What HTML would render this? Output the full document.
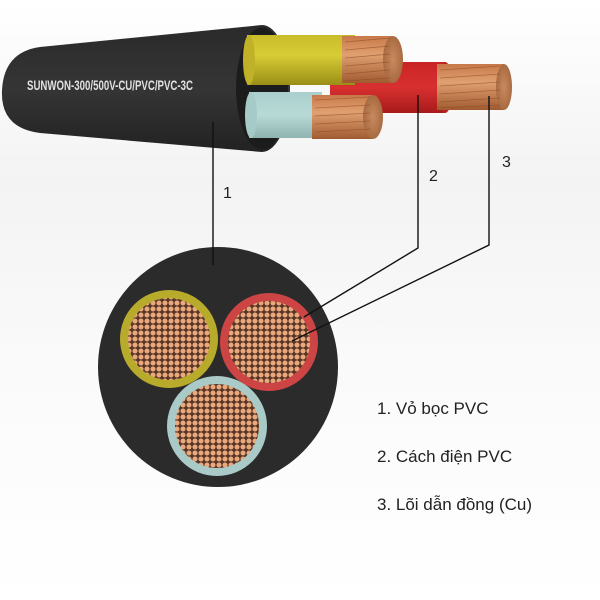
<!DOCTYPE html>
<html><head><meta charset="utf-8"><style>
html,body{margin:0;padding:0;background:#fff;}
svg{display:block;}
</style></head><body>
<svg width="600" height="600" viewBox="0 0 600 600" xmlns="http://www.w3.org/2000/svg">
<defs>
<linearGradient id="bg" x1="0" y1="0" x2="0" y2="1">
<stop offset="0" stop-color="#ffffff"/><stop offset="0.3" stop-color="#f3f3f3"/><stop offset="0.6" stop-color="#fafafa"/><stop offset="1" stop-color="#ffffff"/></linearGradient>
<linearGradient id="blk" x1="0" y1="0" x2="0" y2="1">
<stop offset="0" stop-color="#2a2a2a"/><stop offset="0.5" stop-color="#353535"/><stop offset="1" stop-color="#222"/></linearGradient>
<linearGradient id="yel" x1="0" y1="0" x2="0" y2="1">
<stop offset="0" stop-color="#c9bc2a"/><stop offset="0.4" stop-color="#d8cc35"/><stop offset="1" stop-color="#9a8e18"/></linearGradient>
<linearGradient id="blu" x1="0" y1="0" x2="0" y2="1">
<stop offset="0" stop-color="#a9cfcc"/><stop offset="0.5" stop-color="#b8dad6"/><stop offset="1" stop-color="#8fb3b0"/></linearGradient>
<linearGradient id="red" x1="0" y1="0" x2="0" y2="1">
<stop offset="0" stop-color="#c92424"/><stop offset="0.5" stop-color="#d83030"/><stop offset="1" stop-color="#a81a1a"/></linearGradient>
<linearGradient id="cu" x1="0" y1="0" x2="0" y2="1">
<stop offset="0" stop-color="#c8794a"/><stop offset="0.4" stop-color="#e0a070"/><stop offset="1" stop-color="#a05a30"/></linearGradient>
<radialGradient id="cuf" cx="0.5" cy="0.5" r="0.5">
<stop offset="0" stop-color="#c98a60"/><stop offset="1" stop-color="#a86a40"/></radialGradient>
<pattern id="dots" width="6" height="6" patternUnits="userSpaceOnUse">
<rect width="6" height="6" fill="#5a3626"/><circle cx="3" cy="3" r="2.5" fill="#eaa97c"/></pattern>
</defs>
<rect width="600" height="600" fill="url(#bg)"/>

<!-- cable jacket -->
<path d="M40 47 L262 25 A28 63.5 0 0 1 262 152 L40 133 Q0 128 2 90 Q4 52 40 47 Z" fill="url(#blk)"/>
<ellipse cx="262" cy="88.5" rx="26" ry="61" fill="#1c1c1c"/>
<text x="27" y="90" font-family="Liberation Sans, sans-serif" font-size="14" font-weight="bold" fill="#e0e0e0" textLength="166" lengthAdjust="spacingAndGlyphs">SUNWON-300/500V-CU/PVC/PVC-3C</text>

<!-- red core -->
<rect x="330" y="62" width="115" height="51" fill="url(#red)"/>
<ellipse cx="445" cy="87.5" rx="8" ry="25.5" fill="#b82020"/>
<rect x="437" y="64" width="67" height="46" fill="url(#cu)"/>
<ellipse cx="504" cy="87" rx="8" ry="23" fill="url(#cuf)"/>
<g stroke="#8a4a25" stroke-width="0.8" opacity="0.6">
<line x1="440" y1="70" x2="500" y2="66"/><line x1="440" y1="78" x2="500" y2="74"/><line x1="440" y1="86" x2="500" y2="82"/><line x1="440" y1="94" x2="500" y2="90"/><line x1="440" y1="102" x2="500" y2="98"/><line x1="440" y1="108" x2="500" y2="105"/></g>

<!-- yellow core -->
<rect x="247" y="35" width="108" height="50" fill="url(#yel)"/>
<ellipse cx="249" cy="60" rx="6" ry="25" fill="#c0b228"/>
<rect x="342" y="36" width="51" height="47" fill="url(#cu)"/>
<ellipse cx="393" cy="59.5" rx="10" ry="23.5" fill="url(#cuf)"/>
<g stroke="#8a4a25" stroke-width="0.8" opacity="0.6">
<line x1="345" y1="42" x2="390" y2="38"/><line x1="345" y1="50" x2="390" y2="46"/><line x1="345" y1="58" x2="390" y2="54"/><line x1="345" y1="66" x2="390" y2="62"/><line x1="345" y1="74" x2="390" y2="70"/><line x1="345" y1="81" x2="390" y2="78"/></g>

<!-- blue core -->
<rect x="249" y="92" width="73" height="46" fill="url(#blu)"/>
<ellipse cx="251" cy="115" rx="6" ry="23" fill="#a6cbc7"/>
<rect x="312" y="95" width="61" height="44" fill="url(#cu)"/>
<ellipse cx="373" cy="117" rx="10" ry="22" fill="url(#cuf)"/>
<g stroke="#8a4a25" stroke-width="0.8" opacity="0.6">
<line x1="315" y1="100" x2="370" y2="97"/><line x1="315" y1="108" x2="370" y2="105"/><line x1="315" y1="116" x2="370" y2="113"/><line x1="315" y1="124" x2="370" y2="121"/><line x1="315" y1="132" x2="370" y2="129"/></g>

<!-- cross section -->
<circle cx="218" cy="367" r="120" fill="#2b2b2b"/>
<circle cx="169" cy="339" r="49" fill="#b8ab2c"/>
<circle cx="169" cy="339" r="41" fill="url(#dots)"/>
<circle cx="269" cy="342" r="49" fill="#cc4444"/>
<circle cx="269" cy="342" r="41" fill="url(#dots)"/>
<circle cx="217" cy="426" r="50" fill="#a9cac6"/>
<circle cx="217" cy="426" r="42" fill="url(#dots)"/>

<!-- leader lines -->
<g stroke="#111" stroke-width="1.4" fill="none">
<line x1="213" y1="122" x2="213" y2="265"/>
<polyline points="418,95 418,248 304,317"/>
<polyline points="489,96 489,245 292,341"/>
</g>
<g font-family="Liberation Sans, sans-serif" font-size="16" fill="#222">
<text x="223" y="198">1</text>
<text x="429" y="181">2</text>
<text x="502" y="167">3</text>
</g>
<g font-family="Liberation Sans, sans-serif" font-size="17" fill="#222">
<text x="377" y="414">1. Vỏ bọc PVC</text>
<text x="377" y="462">2. Cách điện PVC</text>
<text x="377" y="510">3. Lõi dẫn đồng (Cu)</text>
</g>
</svg>
</body></html>
